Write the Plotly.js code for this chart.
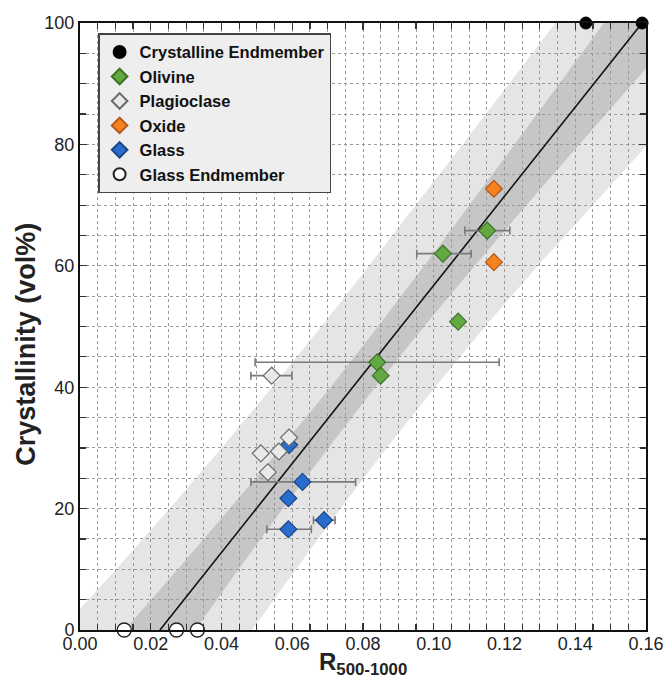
<!DOCTYPE html>
<html><head><meta charset="utf-8">
<script src="https://cdn.plot.ly/plotly-3.0.1.min.js"></script>
<style>html,body{margin:0;padding:0;background:#fff}#chart{width:668px;height:695px}</style>
</head><body><div id="chart"></div>
<script>
// ---- data ----
const crystX = [0.1430, 0.1589];
const crystY = [100, 100];

const olivX = [0.1026, 0.1151, 0.1069, 0.0840, 0.0850];
const olivY = [62.0, 65.8, 50.8, 44.1, 41.9];
const olivErrMinus = [0.0074, 0.0063, 0, 0.0345, 0];
const olivErrPlus  = [0.0080, 0.0064, 0, 0.0345, 0];

const plagX = [0.0542, 0.0591, 0.0511, 0.0562, 0.0531];
const plagY = [41.9, 31.7, 29.1, 29.4, 26.0];
const plagErrMinus = [0.0059, 0, 0, 0, 0];
const plagErrPlus  = [0.0057, 0, 0, 0, 0];

const oxideX = [0.1170, 0.1170];
const oxideY = [72.7, 60.6];

const glassX = [0.0591, 0.0629, 0.0589, 0.0690, 0.0589];
const glassY = [30.5, 24.4, 21.7, 18.1, 16.6];
const glassErrMinus = [0, 0.0146, 0, 0.0030, 0.0061];
const glassErrPlus  = [0, 0.0150, 0, 0.0031, 0.0065];

const glassEndX = [0.0125, 0.0273, 0.0332];
const glassEndY = [0, 0, 0];

// regression line end points
const fitX = [0.0226, 0.1589];
const fitY = [0, 100];

// band offsets (in R units, left / right of the fit line) read at crystallinity levels
const bandY      = [-10, 0, 10, 20, 30, 40, 50, 60, 70, 80, 90, 100, 110];
const darkLeft   = [0.0115, 0.0100, 0.0086, 0.0075, 0.0067, 0.0063, 0.0065, 0.0071, 0.0079, 0.0088, 0.0098, 0.0108, 0.0118];
const darkRight  = [0.0115, 0.0100, 0.0086, 0.0075, 0.0067, 0.0063, 0.0065, 0.0072, 0.0082, 0.0095, 0.0109, 0.0125, 0.0141];
const lightLeft  = [0.0290, 0.0280, 0.0260, 0.0245, 0.0235, 0.0228, 0.0225, 0.0227, 0.0231, 0.0235, 0.0240, 0.0245, 0.0250];
const lightRight = [0.0270, 0.0260, 0.0248, 0.0238, 0.0232, 0.0232, 0.0238, 0.0250, 0.0270, 0.0288, 0.0296, 0.0304, 0.0312];

// ---- build ----
function fitAt(y){ return fitX[0] + (y - fitY[0]) * (fitX[1]-fitX[0]) / (fitY[1]-fitY[0]); }
function bandPath(lo, hi){
  const left = bandY.map((y,i)=>[fitAt(y)-lo[i], y]);
  const right = bandY.map((y,i)=>[fitAt(y)+hi[i], y]).reverse();
  const pts = left.concat(right);
  return 'M' + pts.map(p=>p[0].toFixed(5)+','+p[1]).join(' L') + ' Z';
}

const FONT = 'Liberation Sans, Arial, sans-serif';
const errStyle = {color:'#7a7a7a', thickness:1.6, width:4};

const traces = [
  {x: fitX, y: fitY, mode:'lines', line:{color:'#111', width:1.6}, showlegend:false, hoverinfo:'skip'},
  {x: crystX, y: crystY, mode:'markers', name:'Crystalline Endmember', legendrank:1, cliponaxis:false,
   marker:{symbol:'circle', size:12, color:'#000', line:{color:'#000', width:1}}},
  {x: olivX, y: olivY, mode:'markers', name:'Olivine', legendrank:2,
   error_x:Object.assign({type:'data', symmetric:false, array:olivErrPlus, arrayminus:olivErrMinus}, errStyle),
   marker:{symbol:'diamond', size:13, color:'#64a844', line:{color:'#3b7424', width:1.2}}},
  {x: oxideX, y: oxideY, mode:'markers', name:'Oxide', legendrank:4,
   marker:{symbol:'diamond', size:13, color:'#f5821f', line:{color:'#b5571a', width:1.2}}},
  {x: glassX, y: glassY, mode:'markers', name:'Glass', legendrank:5,
   error_x:Object.assign({type:'data', symmetric:false, array:glassErrPlus, arrayminus:glassErrMinus}, errStyle),
   marker:{symbol:'diamond', size:13, color:'#2a6ccb', line:{color:'#1a4688', width:1.2}}},
  {x: plagX, y: plagY, mode:'markers', name:'Plagioclase', legendrank:3,
   error_x:Object.assign({type:'data', symmetric:false, array:plagErrPlus, arrayminus:plagErrMinus}, errStyle),
   marker:{symbol:'diamond', size:13, color:'#e9e9e9', line:{color:'#6a6a6a', width:1.2}}},
  {x: glassEndX, y: glassEndY, mode:'markers', name:'Glass Endmember', legendrank:6, cliponaxis:false,
   marker:{symbol:'circle', size:14, color:'#fff', line:{color:'#222', width:1.3}}}
];

const axisCommon = {
  showline:true, linecolor:'#111', linewidth:2, mirror:'ticks',
  ticks:'inside', ticklen:7, tickwidth:1.2, tickcolor:'#333',
  showgrid:true, gridcolor:'#9a9a9a', gridwidth:1, griddash:'dot',
  zeroline:false, tickfont:{family:FONT, size:18, color:'#222'}
};

const layout = {
  width:668, height:695,
  margin:{l:80, r:22, t:23, b:65},
  paper_bgcolor:'#fff', plot_bgcolor:'#fff',
  font:{family:FONT},
  xaxis: Object.assign({}, axisCommon, {
    range:[0, 0.16], dtick:0.02, tick0:0, tickformat:'.2f', ticklabelstandoff:-4,
    minor:{dtick:0.005, ticks:'inside', ticklen:6, tickcolor:'#333', showgrid:true, gridcolor:'#9a9a9a', griddash:'dot'}
  }),
  yaxis: Object.assign({}, axisCommon, {
    range:[0, 100], dtick:20, tick0:0,
    minor:{dtick:5, ticks:'inside', ticklen:6, tickcolor:'#333', showgrid:true, gridcolor:'#9a9a9a', griddash:'dot'}
  }),
  annotations:[
    {xref:'paper', yref:'paper', x:-0.0954, y:0.47, xanchor:'center', yanchor:'middle', textangle:-90,
     showarrow:false, text:'<b>Crystallinity (vol%)</b>', font:{family:FONT, size:27, color:'#222'}},
    {xref:'paper', yref:'paper', x:0.5, y:-0.056, xanchor:'center', yanchor:'middle',
     showarrow:false, text:'<b>R<sub>500-1000</sub></b>', font:{family:FONT, size:24, color:'#222'}}
  ],
  legend:{x:0.032, y:0.983, xanchor:'left', yanchor:'top', bgcolor:'#eeeeee', bordercolor:'#444', borderwidth:1.5,
    font:{family:FONT, size:16.5, color:'#111', weight:'bold'}, tracegroupgap:0, itemsizing:'constant'},
  shapes:[
    {type:'path', xref:'x', yref:'y', path:bandPath(lightLeft, lightRight), fillcolor:'#e5e5e5', line:{width:0}, layer:'below'},
    {type:'path', xref:'x', yref:'y', path:bandPath(darkLeft, darkRight), fillcolor:'#c6c6c6', line:{width:0}, layer:'below'}
  ]
};

Plotly.newPlot('chart', traces, layout, {displayModeBar:false, staticPlot:true});
</script>
</body></html>
